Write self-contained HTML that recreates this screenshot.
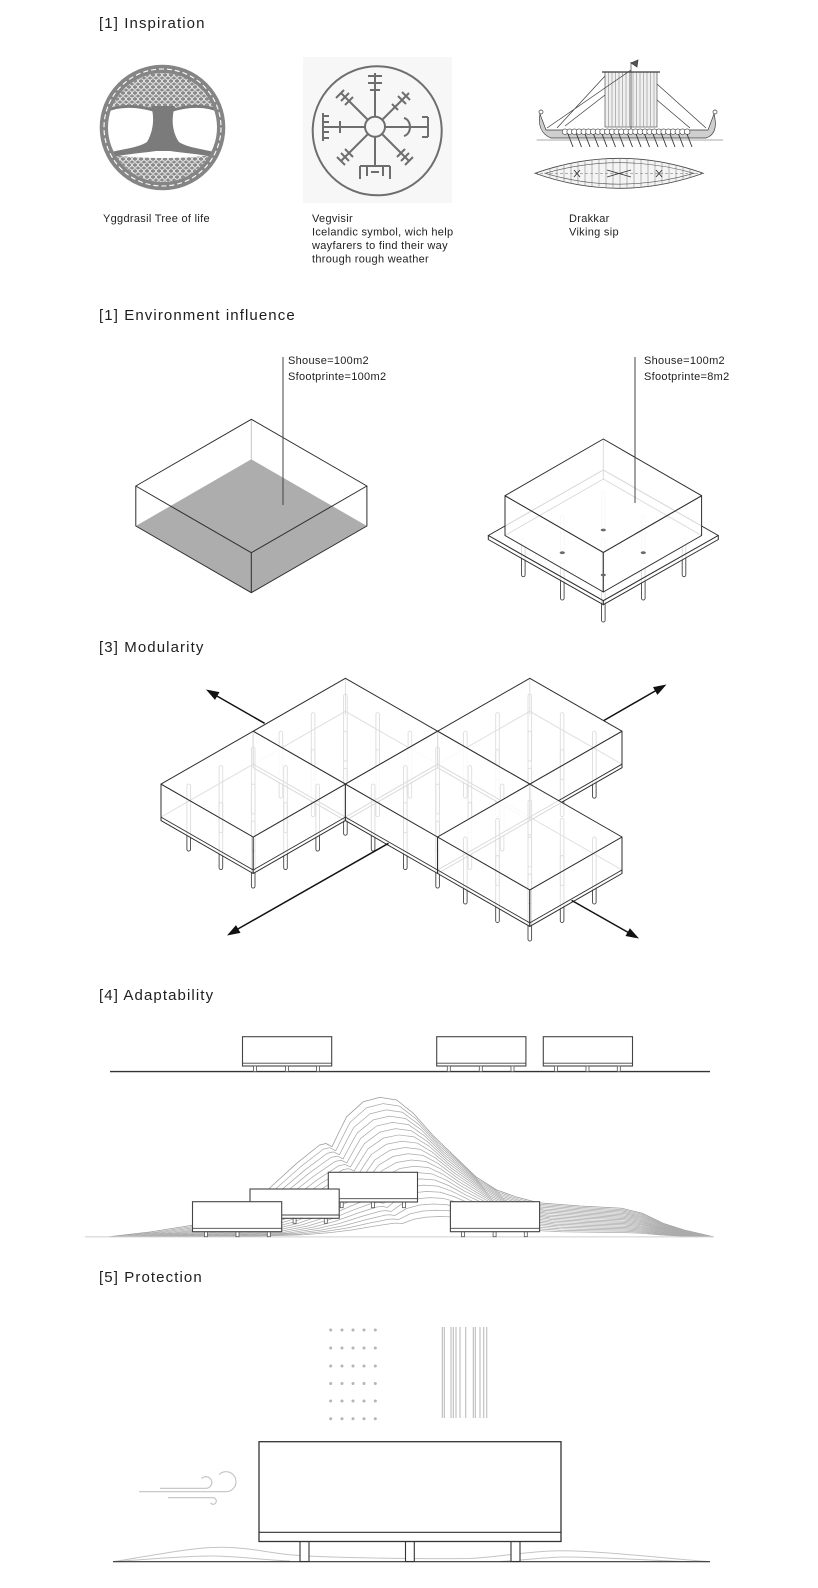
<!DOCTYPE html>
<html><head><meta charset="utf-8">
<style>
html,body{margin:0;padding:0;background:#fff}
svg{display:block}
text{font-family:"Liberation Sans",Arial,sans-serif;fill:#1e1e1e}
.t{font-size:15px;letter-spacing:1.1px}
.c{font-size:11px;letter-spacing:0.3px}
</style></head>
<body>
<svg width="818" height="1588" viewBox="0 0 818 1588" xmlns="http://www.w3.org/2000/svg">
<defs>
  <pattern id="kn" width="6" height="6" patternUnits="userSpaceOnUse">
    <rect width="6" height="6" fill="#8a8a8a"/>
    <path d="M0,3 C1.5,0 4.5,0 6,3 M0,3 C1.5,6 4.5,6 6,3" stroke="#fff" stroke-width="0.8" fill="none"/>
  </pattern>
  <clipPath id="tc"><circle cx="162.5" cy="127.5" r="54.5"/></clipPath>
  <clipPath id="lens"><path d="M535,173.3 Q619,143.3 703.3,173.3 Q619,203.3 535,173.3 Z"/></clipPath>
  <g id="mod">
    <g fill="none" stroke="#444" stroke-width="0.9">
      <rect x="-1.8" y="15.9" width="3.6" height="67" rx="1.8"/>
      <rect x="-34.1" y="34.4" width="3.6" height="67" rx="1.8"/>
      <rect x="-66.3" y="52.9" width="3.6" height="67" rx="1.8"/>
      <rect x="30.5" y="34.4" width="3.6" height="67" rx="1.8"/>
      <rect x="-1.8" y="52.9" width="3.6" height="67" rx="1.8"/>
      <rect x="-34.1" y="71.4" width="3.6" height="67" rx="1.8"/>
      <rect x="62.7" y="52.9" width="3.6" height="67" rx="1.8"/>
      <rect x="30.5" y="71.4" width="3.6" height="67" rx="1.8"/>
      <rect x="-1.8" y="89.9" width="3.6" height="67" rx="1.8"/>
      <path d="M0,0 V36.5 M0,33 L92.2,85.9 M0,33 L-92.2,85.9"/>
    </g>
    <g fill="rgba(255,255,255,0.82)" stroke="#2e2e2e" stroke-width="1" stroke-linejoin="round">
      <path d="M-92.2,52.9 L0,105.8 L0,142.3 L-92.2,89.4 Z"/>
      <path d="M0,105.8 L92.2,52.9 L92.2,89.4 L0,142.3 Z"/>
      <path d="M0,0 L92.2,52.9 L0,105.8 L-92.2,52.9 Z"/>
    </g>
    <path d="M-92.2,85.9 L0,138.8 L92.2,85.9" fill="none" stroke="#2e2e2e" stroke-width="0.9"/>
  </g>
</defs>

<!-- ============ SECTION 1 ============ -->
<text class="t" x="99" y="28">[1] Inspiration</text>

<!-- Tree -->
<g>
  <path d="M100,112 C115,104 135,102 152,110 L174,110 C190,102 210,104 226,112 L226,60 L100,60 Z" fill="url(#kn)" clip-path="url(#tc)"/>
  <path d="M100,152 C125,160 200,160 226,152 L226,195 L100,195 Z" fill="url(#kn)" clip-path="url(#tc)"/>
  <path d="M151,106 C155,118 153,132 147,142 C138,148 122,149 108,153 L112,157 C128,154 142,153 156,151 L170,151 C184,153 198,154 214,157 L218,153 C204,149 188,148 179,142 C172,132 171,118 175,106 Z" fill="#7b7b7b"/>
  <path d="M153,110 C140,106 120,104 106,111 M173,110 C186,106 205,104 219,111" stroke="#7b7b7b" stroke-width="3" fill="none"/>
  <circle cx="162.5" cy="127.5" r="58.5" fill="none" stroke="#858585" stroke-width="8"/>
  <circle cx="162.5" cy="127.5" r="58.5" fill="none" stroke="#fff" stroke-width="1.1" stroke-dasharray="5 3"/>
  <circle cx="162.5" cy="127.5" r="62.3" fill="none" stroke="#858585" stroke-width="1"/>
</g>

<!-- Vegvisir -->
<rect x="303" y="57" width="149" height="146" fill="#f7f7f7"/>
<g fill="none" stroke="#6e6e6e" stroke-width="2" stroke-linecap="butt">
  <circle cx="377.2" cy="130.8" r="64.5"/>
  <circle cx="375" cy="126.7" r="10"/>
  <path d="M375,117V73 M368,76H382 M368,83H382 M370,90H380"/>
  <path d="M375,137V166 M360,166H390 M360,166V179 M367,166V176 M383,166V176 M390,166V179 M371,172H379"/>
  <path d="M365,127H323 M323,113V141 M323,116H329 M323,122H329 M323,132H329 M323,138H329 M340,121V133"/>
  <path d="M385,127H428 M428,117V137 M428,117H422 M428,137H422 M416,127H424 M404,118 C412,120 412,134 404,136"/>
  <path d="M382,120 L409,93 M398,96 L406,104 M402,92 L410,100 M392,104 L398,110"/>
  <path d="M368,120 L341,93 M341,101 L349,93 M345,105 L353,97 M336,98 L344,90"/>
  <path d="M368,134 L341,161 M341,153 L349,161 M345,149 L353,157 M337,157 L345,165"/>
  <path d="M382,134 L409,161 M401,161 L409,153 M397,157 L405,149 M405,165 L413,157"/>
</g>

<!-- Ship -->
<g stroke="#3a3a3a" stroke-width="0.7" fill="none">
  <rect x="605" y="72" width="52" height="55" fill="#f0f0f0" stroke="#555"/>
  <path d="M608.5,72V127 M612,72V127 M615.5,72V127 M619,72V127 M622.5,72V127 M626,72V127 M629.5,72V127 M633,72V127 M636.5,72V127 M640,72V127 M643.5,72V127 M647,72V127 M650.5,72V127 M654,72V127" stroke="#9a9a9a"/>
  <path d="M602,72H660" stroke-width="1.2"/>
  <path d="M631,62V138"/>
  <path d="M631,63 L638,60 L637,67 Z" fill="#555"/>
  <path d="M631,70 L547,128 M605,76 L557,128 M605,95 L565,126 M657,84 L706,128 M657,100 L690,128"/>
  <path d="M540,114 C538,125 541,134 551,138 L706,138 C715,135 717,126 714,114 L708,130 L546,130 Z" fill="#cfcfcf"/>
  <circle cx="541" cy="112" r="2"/><circle cx="715" cy="112" r="2"/>
  <g fill="#fff" stroke="#333" stroke-width="0.6">
    <circle cx="565" cy="131.7" r="2.8"/><circle cx="569.7" cy="131.7" r="2.8"/><circle cx="574.4" cy="131.7" r="2.8"/><circle cx="579.1" cy="131.7" r="2.8"/><circle cx="583.8" cy="131.7" r="2.8"/><circle cx="588.5" cy="131.7" r="2.8"/><circle cx="593.2" cy="131.7" r="2.8"/><circle cx="597.9" cy="131.7" r="2.8"/><circle cx="602.6" cy="131.7" r="2.8"/><circle cx="607.3" cy="131.7" r="2.8"/><circle cx="612" cy="131.7" r="2.8"/><circle cx="616.7" cy="131.7" r="2.8"/><circle cx="621.4" cy="131.7" r="2.8"/><circle cx="626.1" cy="131.7" r="2.8"/><circle cx="630.8" cy="131.7" r="2.8"/><circle cx="635.5" cy="131.7" r="2.8"/><circle cx="640.2" cy="131.7" r="2.8"/><circle cx="644.9" cy="131.7" r="2.8"/><circle cx="649.6" cy="131.7" r="2.8"/><circle cx="654.3" cy="131.7" r="2.8"/><circle cx="659" cy="131.7" r="2.8"/><circle cx="663.7" cy="131.7" r="2.8"/><circle cx="668.4" cy="131.7" r="2.8"/><circle cx="673.1" cy="131.7" r="2.8"/><circle cx="677.8" cy="131.7" r="2.8"/><circle cx="682.5" cy="131.7" r="2.8"/><circle cx="687.2" cy="131.7" r="2.8"/>
  </g>
  <path d="M568,134 l5,13 M576.5,134 l5,13 M585,134 l5,13 M593.5,134 l5,13 M602,134 l5,13 M610.5,134 l5,13 M619,134 l5,13 M627.5,134 l5,13 M636,134 l5,13 M644.5,134 l5,13 M653,134 l5,13 M661.5,134 l5,13 M670,134 l5,13 M678.5,134 l5,13 M687,134 l5,13" stroke="#333" stroke-width="0.9"/>
  <path d="M536.7,140H723" stroke="#555" stroke-width="0.6"/>
  <path d="M535,173.3 Q619,143.3 703.3,173.3 Q619,203.3 535,173.3 Z" fill="#f4f4f4" stroke="#444" stroke-width="0.8"/>
  <g clip-path="url(#lens)" stroke="#888" stroke-width="0.6">
    <path d="M550,150V200 M557,150V200 M564,150V200 M571,150V200 M578,150V200 M585,150V200 M592,150V200 M599,150V200 M606,150V200 M613,150V200 M620,150V200 M627,150V200 M634,150V200 M641,150V200 M648,150V200 M655,150V200 M662,150V200 M669,150V200 M676,150V200 M683,150V200 M690,150V200"/>
    <path d="M545,173.3 Q619,152 694,173.3 Q619,195 545,173.3 Z" fill="none" stroke="#555"/>
    <path d="M535,173.3H703" stroke-dasharray="3 2"/>
  </g>
  <path d="M607,170 L631,177 M607,177 L631,170 M574,170 L580,177 M574,177 L580,170 M656,170 L662,177 M656,177 L662,170" stroke="#333" stroke-width="0.9"/>
</g>

<text class="c" x="103" y="222">Yggdrasil Tree of life</text>
<text class="c" x="312" y="222">Vegvisir</text>
<text class="c" x="312" y="235.5">Icelandic symbol, wich help</text>
<text class="c" x="312" y="249">wayfarers to find their way</text>
<text class="c" x="312" y="262.5">through rough weather</text>
<text class="c" x="569" y="222">Drakkar</text>
<text class="c" x="569" y="235.5">Viking sip</text>

<!-- ============ SECTION 2 ============ -->
<text class="t" x="99" y="320">[1] Environment influence</text>

<!-- left box -->
<path d="M251.3,459.3 L366.9,526 L251.3,592.7 L135.8,526 Z" fill="#adadad"/>
<path d="M251.3,419.3 V459.3" stroke="#c4c4c4" stroke-width="1" fill="none"/>
<g fill="none" stroke="#2e2e2e" stroke-width="1" stroke-linejoin="round">
  <path d="M251.3,419.3 L366.9,486 L251.3,552.7 L135.8,486 Z"/>
  <path d="M135.8,486 V526 L251.3,592.7 L366.9,526 V486 M251.3,552.7 V592.7"/>
</g>
<path d="M283,357 V505" stroke="#444" stroke-width="1"/>
<text class="c" x="288" y="364">Shouse=100m2</text>
<text class="c" x="288" y="380">Sfootprinte=100m2</text>

<!-- right building -->
<g fill="none" stroke="#444" stroke-width="0.9">
  <rect x="601.5" y="491.7" width="3.6" height="38.5" rx="1.8"/>
  <rect x="560.5" y="515" width="3.6" height="38" rx="1.8"/>
  <rect x="641.5" y="515" width="3.6" height="38" rx="1.8"/>
  <rect x="601.5" y="538" width="3.6" height="38" rx="1.8"/>
  <rect x="521.5" y="538.3" width="3.6" height="38.4" rx="1.8"/>
  <rect x="682.2" y="538.3" width="3.6" height="38.4" rx="1.8"/>
  <rect x="560.5" y="561.7" width="3.6" height="38.3" rx="1.8"/>
  <rect x="641.5" y="561.7" width="3.6" height="38.3" rx="1.8"/>
  <rect x="601.5" y="585" width="3.6" height="37" rx="1.8"/>
</g>
<g fill="rgba(255,255,255,0.8)" stroke="#2e2e2e" stroke-width="1" stroke-linejoin="round">
  <path d="M603.3,470 L718.3,535.5 L603.3,600.7 L488.3,535.5 Z"/>
  <path d="M488.3,535.5 L603.3,600.7 L603.3,604.7 L488.3,539.5 Z"/>
  <path d="M603.3,600.7 L718.3,535.5 L718.3,539.5 L603.3,604.7 Z"/>
</g>
<path d="M603.3,439 V479 L505,535.5 M603.3,479 L701.6,535.5" fill="none" stroke="#444" stroke-width="0.9"/>
<g fill="rgba(255,255,255,0.8)" stroke="#2e2e2e" stroke-width="1" stroke-linejoin="round">
  <path d="M505,495.7 L603.3,552.4 L603.3,592 L505,535.5 Z"/>
  <path d="M603.3,552.4 L701.6,495.7 L701.6,535.5 L603.3,592 Z"/>
  <path d="M603.3,439 L701.6,495.7 L603.3,552.4 L505,495.7 Z"/>
</g>
<g fill="#6a6a6a">
  <ellipse cx="603.3" cy="530" rx="2.6" ry="1.4"/>
  <ellipse cx="562.3" cy="552.7" rx="2.6" ry="1.4"/>
  <ellipse cx="643.3" cy="552.7" rx="2.6" ry="1.4"/>
  <ellipse cx="603.3" cy="575" rx="2.6" ry="1.4"/>
</g>
<path d="M635,357 V503" stroke="#444" stroke-width="1"/>
<text class="c" x="644" y="364">Shouse=100m2</text>
<text class="c" x="644" y="380">Sfootprinte=8m2</text>

<!-- ============ SECTION 3 ============ -->
<text class="t" x="99" y="652">[3] Modularity</text>
<use href="#mod" x="529.8" y="678.3"/>
<use href="#mod" x="345.4" y="678.3"/>
<use href="#mod" x="253.2" y="731.2"/>
<use href="#mod" x="437.6" y="731.2"/>
<use href="#mod" x="529.8" y="784.1"/>

<g stroke="#111" stroke-width="1.5" fill="none">
  <path d="M264.6,723.3 L216,695.5"/>
  <path d="M603.9,720.5 L656,690.5"/>
  <path d="M388.5,843.3 L237,929.5"/>
  <path d="M571.6,900.4 L628.5,932.6"/>
</g>
<g fill="#111">
  <path d="M206,689.5 L215,699.9 L219.5,692.1 Z"/>
  <path d="M666.5,684.5 L657.4,694.9 L653,687.1 Z"/>
  <path d="M227,935.5 L240.5,932.9 L236,925.1 Z"/>
  <path d="M639,938.5 L625.5,936 L629.9,928.2 Z"/>
</g>

<!-- ============ SECTION 4 ============ -->
<text class="t" x="99" y="1000">[4] Adaptability</text>

<path d="M110,1071.6 H710" stroke="#333" stroke-width="1.4"/>
<g fill="#fff" stroke="#444" stroke-width="1.1">
  <rect x="242.5" y="1036.7" width="89.2" height="29.3"/>
  <rect x="436.7" y="1036.7" width="89.2" height="29.3"/>
  <rect x="543.3" y="1036.7" width="89.2" height="29.3"/>
</g>
<path d="M242.5,1063.2 H331.7 M436.7,1063.2 H525.9 M543.3,1063.2 H632.5" stroke="#444" stroke-width="0.9"/>
<g fill="#fff" stroke="#555" stroke-width="0.8">
  <rect x="253.5" y="1066" width="3" height="5.5"/><rect x="285.5" y="1066" width="3" height="5.5"/><rect x="316.5" y="1066" width="3" height="5.5"/>
  <rect x="447.3" y="1066" width="3" height="5.5"/><rect x="479.3" y="1066" width="3" height="5.5"/><rect x="511" y="1066" width="3" height="5.5"/>
  <rect x="554.5" y="1066" width="3" height="5.5"/><rect x="586" y="1066" width="3" height="5.5"/><rect x="617.3" y="1066" width="3" height="5.5"/>
</g>

<g fill="none" stroke="#ababab" stroke-width="0.75" stroke-linejoin="round">
<path vector-effect="non-scaling-stroke" transform="translate(640 1236.7) scale(1 1) translate(-640 -1236.7)" d="M109.2,1236.7 L150,1232 L205,1223.3 L240,1208 L267.5,1190 L296.7,1163.3 L319.6,1145 L326,1143.5 L332,1146.7 L340,1130 L346.7,1116.7 L363.3,1101.7 L380,1097.3 L396.7,1100 L413.3,1113.3 L434.2,1136.7 L455,1156.7 L475.8,1176.7 L496.7,1190 L517.5,1197.3 L538.3,1202.7 L580,1206 L621.7,1208.3 L642.5,1213.3 L663.3,1223.3 L684.2,1230 L713.3,1236.7" stroke="#999"/>
<path vector-effect="non-scaling-stroke" transform="translate(640 1236.7) scale(0.988 0.955) translate(-640 -1236.7)" d="M109.2,1236.7 L150,1232 L205,1223.3 L240,1208 L267.5,1190 L296.7,1163.3 L319.6,1145 L326,1143.5 L332,1146.7 L340,1130 L346.7,1116.7 L363.3,1101.7 L380,1097.3 L396.7,1100 L413.3,1113.3 L434.2,1136.7 L455,1156.7 L475.8,1176.7 L496.7,1190 L517.5,1197.3 L538.3,1202.7 L580,1206 L621.7,1208.3 L642.5,1213.3 L663.3,1223.3 L684.2,1230 L713.3,1236.7"/>
<path vector-effect="non-scaling-stroke" transform="translate(640 1236.7) scale(0.976 0.91) translate(-640 -1236.7)" d="M109.2,1236.7 L150,1232 L205,1223.3 L240,1208 L267.5,1190 L296.7,1163.3 L319.6,1145 L326,1143.5 L332,1146.7 L340,1130 L346.7,1116.7 L363.3,1101.7 L380,1097.3 L396.7,1100 L413.3,1113.3 L434.2,1136.7 L455,1156.7 L475.8,1176.7 L496.7,1190 L517.5,1197.3 L538.3,1202.7 L580,1206 L621.7,1208.3 L642.5,1213.3 L663.3,1223.3 L684.2,1230 L713.3,1236.7"/>
<path vector-effect="non-scaling-stroke" transform="translate(640 1236.7) scale(0.964 0.865) translate(-640 -1236.7)" d="M109.2,1236.7 L150,1232 L205,1223.3 L240,1208 L267.5,1190 L296.7,1163.3 L319.6,1145 L326,1143.5 L332,1146.7 L340,1130 L346.7,1116.7 L363.3,1101.7 L380,1097.3 L396.7,1100 L413.3,1113.3 L434.2,1136.7 L455,1156.7 L475.8,1176.7 L496.7,1190 L517.5,1197.3 L538.3,1202.7 L580,1206 L621.7,1208.3 L642.5,1213.3 L663.3,1223.3 L684.2,1230 L713.3,1236.7"/>
<path vector-effect="non-scaling-stroke" transform="translate(640 1236.7) scale(0.952 0.82) translate(-640 -1236.7)" d="M109.2,1236.7 L150,1232 L205,1223.3 L240,1208 L267.5,1190 L296.7,1163.3 L319.6,1145 L326,1143.5 L332,1146.7 L340,1130 L346.7,1116.7 L363.3,1101.7 L380,1097.3 L396.7,1100 L413.3,1113.3 L434.2,1136.7 L455,1156.7 L475.8,1176.7 L496.7,1190 L517.5,1197.3 L538.3,1202.7 L580,1206 L621.7,1208.3 L642.5,1213.3 L663.3,1223.3 L684.2,1230 L713.3,1236.7"/>
<path vector-effect="non-scaling-stroke" transform="translate(640 1236.7) scale(0.94 0.775) translate(-640 -1236.7)" d="M109.2,1236.7 L150,1232 L205,1223.3 L240,1208 L267.5,1190 L296.7,1163.3 L319.6,1145 L326,1143.5 L332,1146.7 L340,1130 L346.7,1116.7 L363.3,1101.7 L380,1097.3 L396.7,1100 L413.3,1113.3 L434.2,1136.7 L455,1156.7 L475.8,1176.7 L496.7,1190 L517.5,1197.3 L538.3,1202.7 L580,1206 L621.7,1208.3 L642.5,1213.3 L663.3,1223.3 L684.2,1230 L713.3,1236.7"/>
<path vector-effect="non-scaling-stroke" transform="translate(640 1236.7) scale(0.928 0.73) translate(-640 -1236.7)" d="M109.2,1236.7 L150,1232 L205,1223.3 L240,1208 L267.5,1190 L296.7,1163.3 L319.6,1145 L326,1143.5 L332,1146.7 L340,1130 L346.7,1116.7 L363.3,1101.7 L380,1097.3 L396.7,1100 L413.3,1113.3 L434.2,1136.7 L455,1156.7 L475.8,1176.7 L496.7,1190 L517.5,1197.3 L538.3,1202.7 L580,1206 L621.7,1208.3 L642.5,1213.3 L663.3,1223.3 L684.2,1230 L713.3,1236.7"/>
<path vector-effect="non-scaling-stroke" transform="translate(640 1236.7) scale(0.916 0.685) translate(-640 -1236.7)" d="M109.2,1236.7 L150,1232 L205,1223.3 L240,1208 L267.5,1190 L296.7,1163.3 L319.6,1145 L326,1143.5 L332,1146.7 L340,1130 L346.7,1116.7 L363.3,1101.7 L380,1097.3 L396.7,1100 L413.3,1113.3 L434.2,1136.7 L455,1156.7 L475.8,1176.7 L496.7,1190 L517.5,1197.3 L538.3,1202.7 L580,1206 L621.7,1208.3 L642.5,1213.3 L663.3,1223.3 L684.2,1230 L713.3,1236.7"/>
<path vector-effect="non-scaling-stroke" transform="translate(640 1236.7) scale(0.904 0.64) translate(-640 -1236.7)" d="M109.2,1236.7 L150,1232 L205,1223.3 L240,1208 L267.5,1190 L296.7,1163.3 L319.6,1145 L326,1143.5 L332,1146.7 L340,1130 L346.7,1116.7 L363.3,1101.7 L380,1097.3 L396.7,1100 L413.3,1113.3 L434.2,1136.7 L455,1156.7 L475.8,1176.7 L496.7,1190 L517.5,1197.3 L538.3,1202.7 L580,1206 L621.7,1208.3 L642.5,1213.3 L663.3,1223.3 L684.2,1230 L713.3,1236.7"/>
<path vector-effect="non-scaling-stroke" transform="translate(640 1236.7) scale(0.892 0.595) translate(-640 -1236.7)" d="M109.2,1236.7 L150,1232 L205,1223.3 L240,1208 L267.5,1190 L296.7,1163.3 L319.6,1145 L326,1143.5 L332,1146.7 L340,1130 L346.7,1116.7 L363.3,1101.7 L380,1097.3 L396.7,1100 L413.3,1113.3 L434.2,1136.7 L455,1156.7 L475.8,1176.7 L496.7,1190 L517.5,1197.3 L538.3,1202.7 L580,1206 L621.7,1208.3 L642.5,1213.3 L663.3,1223.3 L684.2,1230 L713.3,1236.7"/>
<path vector-effect="non-scaling-stroke" transform="translate(640 1236.7) scale(0.88 0.55) translate(-640 -1236.7)" d="M109.2,1236.7 L150,1232 L205,1223.3 L240,1208 L267.5,1190 L296.7,1163.3 L319.6,1145 L326,1143.5 L332,1146.7 L340,1130 L346.7,1116.7 L363.3,1101.7 L380,1097.3 L396.7,1100 L413.3,1113.3 L434.2,1136.7 L455,1156.7 L475.8,1176.7 L496.7,1190 L517.5,1197.3 L538.3,1202.7 L580,1206 L621.7,1208.3 L642.5,1213.3 L663.3,1223.3 L684.2,1230 L713.3,1236.7"/>
<path vector-effect="non-scaling-stroke" transform="translate(640 1236.7) scale(0.868 0.505) translate(-640 -1236.7)" d="M109.2,1236.7 L150,1232 L205,1223.3 L240,1208 L267.5,1190 L296.7,1163.3 L319.6,1145 L326,1143.5 L332,1146.7 L340,1130 L346.7,1116.7 L363.3,1101.7 L380,1097.3 L396.7,1100 L413.3,1113.3 L434.2,1136.7 L455,1156.7 L475.8,1176.7 L496.7,1190 L517.5,1197.3 L538.3,1202.7 L580,1206 L621.7,1208.3 L642.5,1213.3 L663.3,1223.3 L684.2,1230 L713.3,1236.7"/>
<path vector-effect="non-scaling-stroke" transform="translate(640 1236.7) scale(0.856 0.46) translate(-640 -1236.7)" d="M109.2,1236.7 L150,1232 L205,1223.3 L240,1208 L267.5,1190 L296.7,1163.3 L319.6,1145 L326,1143.5 L332,1146.7 L340,1130 L346.7,1116.7 L363.3,1101.7 L380,1097.3 L396.7,1100 L413.3,1113.3 L434.2,1136.7 L455,1156.7 L475.8,1176.7 L496.7,1190 L517.5,1197.3 L538.3,1202.7 L580,1206 L621.7,1208.3 L642.5,1213.3 L663.3,1223.3 L684.2,1230 L713.3,1236.7"/>
<path vector-effect="non-scaling-stroke" transform="translate(640 1236.7) scale(0.844 0.415) translate(-640 -1236.7)" d="M109.2,1236.7 L150,1232 L205,1223.3 L240,1208 L267.5,1190 L296.7,1163.3 L319.6,1145 L326,1143.5 L332,1146.7 L340,1130 L346.7,1116.7 L363.3,1101.7 L380,1097.3 L396.7,1100 L413.3,1113.3 L434.2,1136.7 L455,1156.7 L475.8,1176.7 L496.7,1190 L517.5,1197.3 L538.3,1202.7 L580,1206 L621.7,1208.3 L642.5,1213.3 L663.3,1223.3 L684.2,1230 L713.3,1236.7"/>
<path vector-effect="non-scaling-stroke" transform="translate(640 1236.7) scale(0.832 0.37) translate(-640 -1236.7)" d="M109.2,1236.7 L150,1232 L205,1223.3 L240,1208 L267.5,1190 L296.7,1163.3 L319.6,1145 L326,1143.5 L332,1146.7 L340,1130 L346.7,1116.7 L363.3,1101.7 L380,1097.3 L396.7,1100 L413.3,1113.3 L434.2,1136.7 L455,1156.7 L475.8,1176.7 L496.7,1190 L517.5,1197.3 L538.3,1202.7 L580,1206 L621.7,1208.3 L642.5,1213.3 L663.3,1223.3 L684.2,1230 L713.3,1236.7"/>
<path vector-effect="non-scaling-stroke" transform="translate(640 1236.7) scale(0.82 0.325) translate(-640 -1236.7)" d="M109.2,1236.7 L150,1232 L205,1223.3 L240,1208 L267.5,1190 L296.7,1163.3 L319.6,1145 L326,1143.5 L332,1146.7 L340,1130 L346.7,1116.7 L363.3,1101.7 L380,1097.3 L396.7,1100 L413.3,1113.3 L434.2,1136.7 L455,1156.7 L475.8,1176.7 L496.7,1190 L517.5,1197.3 L538.3,1202.7 L580,1206 L621.7,1208.3 L642.5,1213.3 L663.3,1223.3 L684.2,1230 L713.3,1236.7"/>
<path vector-effect="non-scaling-stroke" transform="translate(640 1236.7) scale(0.808 0.28) translate(-640 -1236.7)" d="M109.2,1236.7 L150,1232 L205,1223.3 L240,1208 L267.5,1190 L296.7,1163.3 L319.6,1145 L326,1143.5 L332,1146.7 L340,1130 L346.7,1116.7 L363.3,1101.7 L380,1097.3 L396.7,1100 L413.3,1113.3 L434.2,1136.7 L455,1156.7 L475.8,1176.7 L496.7,1190 L517.5,1197.3 L538.3,1202.7 L580,1206 L621.7,1208.3 L642.5,1213.3 L663.3,1223.3 L684.2,1230 L713.3,1236.7"/>
<path vector-effect="non-scaling-stroke" transform="translate(640 1236.7) scale(0.796 0.235) translate(-640 -1236.7)" d="M109.2,1236.7 L150,1232 L205,1223.3 L240,1208 L267.5,1190 L296.7,1163.3 L319.6,1145 L326,1143.5 L332,1146.7 L340,1130 L346.7,1116.7 L363.3,1101.7 L380,1097.3 L396.7,1100 L413.3,1113.3 L434.2,1136.7 L455,1156.7 L475.8,1176.7 L496.7,1190 L517.5,1197.3 L538.3,1202.7 L580,1206 L621.7,1208.3 L642.5,1213.3 L663.3,1223.3 L684.2,1230 L713.3,1236.7"/>
<path vector-effect="non-scaling-stroke" transform="translate(640 1236.7) scale(0.784 0.19) translate(-640 -1236.7)" d="M109.2,1236.7 L150,1232 L205,1223.3 L240,1208 L267.5,1190 L296.7,1163.3 L319.6,1145 L326,1143.5 L332,1146.7 L340,1130 L346.7,1116.7 L363.3,1101.7 L380,1097.3 L396.7,1100 L413.3,1113.3 L434.2,1136.7 L455,1156.7 L475.8,1176.7 L496.7,1190 L517.5,1197.3 L538.3,1202.7 L580,1206 L621.7,1208.3 L642.5,1213.3 L663.3,1223.3 L684.2,1230 L713.3,1236.7"/>
<path vector-effect="non-scaling-stroke" transform="translate(640 1236.7) scale(0.772 0.145) translate(-640 -1236.7)" d="M109.2,1236.7 L150,1232 L205,1223.3 L240,1208 L267.5,1190 L296.7,1163.3 L319.6,1145 L326,1143.5 L332,1146.7 L340,1130 L346.7,1116.7 L363.3,1101.7 L380,1097.3 L396.7,1100 L413.3,1113.3 L434.2,1136.7 L455,1156.7 L475.8,1176.7 L496.7,1190 L517.5,1197.3 L538.3,1202.7 L580,1206 L621.7,1208.3 L642.5,1213.3 L663.3,1223.3 L684.2,1230 L713.3,1236.7"/>
</g>
<path d="M85,1236.9 H714" stroke="#cfcfcf" stroke-width="1"/>

<!-- boxes on mountain: back to front -->
<g stroke="#444" stroke-width="1.1">
  <g fill="#fff" stroke="#555" stroke-width="0.8">
    <rect x="340.2" y="1202" width="3" height="5.7"/><rect x="371.5" y="1202" width="3" height="5.7"/><rect x="402.5" y="1202" width="3" height="5.7"/>
  </g>
  <rect x="328.3" y="1172.3" width="89.2" height="29.7" fill="#fff"/>
  <path d="M328.3,1198.7 H417.5" stroke-width="0.9"/>
  <g fill="#fff" stroke="#555" stroke-width="0.8">
    <rect x="261.5" y="1218.3" width="3" height="5"/><rect x="293.1" y="1218.3" width="3" height="5"/><rect x="324.3" y="1218.3" width="3" height="5"/>
  </g>
  <rect x="250" y="1189" width="89.2" height="29.3" fill="#fff"/>
  <path d="M250,1215 H339.2" stroke-width="0.9"/>
  <g fill="#fff" stroke="#555" stroke-width="0.8">
    <rect x="204.5" y="1231.7" width="3" height="5"/><rect x="236" y="1231.7" width="3" height="5"/><rect x="267.3" y="1231.7" width="3" height="5"/>
  </g>
  <rect x="192.5" y="1201.7" width="89.2" height="30" fill="#fff"/>
  <path d="M192.5,1228.3 H281.7" stroke-width="0.9"/>
  <g fill="#fff" stroke="#555" stroke-width="0.8">
    <rect x="461.5" y="1231.7" width="3" height="5"/><rect x="493.1" y="1231.7" width="3" height="5"/><rect x="524.3" y="1231.7" width="3" height="5"/>
  </g>
  <rect x="450.4" y="1201.7" width="89.2" height="30" fill="#fff"/>
  <path d="M450.4,1228.3 H539.6" stroke-width="0.9"/>
</g>

<!-- ============ SECTION 5 ============ -->
<text class="t" x="99" y="1282">[5] Protection</text>

<g fill="#b5b5b5">
  <circle cx="330.7" cy="1330" r="1.5"/><circle cx="342" cy="1330" r="1.5"/><circle cx="353" cy="1330" r="1.5"/><circle cx="364" cy="1330" r="1.5"/><circle cx="375.3" cy="1330" r="1.5"/>
  <circle cx="330.7" cy="1348" r="1.5"/><circle cx="342" cy="1348" r="1.5"/><circle cx="353" cy="1348" r="1.5"/><circle cx="364" cy="1348" r="1.5"/><circle cx="375.3" cy="1348" r="1.5"/>
  <circle cx="330.7" cy="1366" r="1.5"/><circle cx="342" cy="1366" r="1.5"/><circle cx="353" cy="1366" r="1.5"/><circle cx="364" cy="1366" r="1.5"/><circle cx="375.3" cy="1366" r="1.5"/>
  <circle cx="330.7" cy="1383.5" r="1.5"/><circle cx="342" cy="1383.5" r="1.5"/><circle cx="353" cy="1383.5" r="1.5"/><circle cx="364" cy="1383.5" r="1.5"/><circle cx="375.3" cy="1383.5" r="1.5"/>
  <circle cx="330.7" cy="1401" r="1.5"/><circle cx="342" cy="1401" r="1.5"/><circle cx="353" cy="1401" r="1.5"/><circle cx="364" cy="1401" r="1.5"/><circle cx="375.3" cy="1401" r="1.5"/>
  <circle cx="330.7" cy="1418.7" r="1.5"/><circle cx="342" cy="1418.7" r="1.5"/><circle cx="353" cy="1418.7" r="1.5"/><circle cx="364" cy="1418.7" r="1.5"/><circle cx="375.3" cy="1418.7" r="1.5"/>
</g>
<path d="M442.3,1327V1418 M444.3,1327V1418 M451,1327V1418 M453.3,1327V1418 M456,1327V1418 M460,1327V1418 M465.7,1327V1418 M473.3,1327V1418 M475.3,1327V1418 M480,1327V1418 M483.7,1327V1418 M486.7,1327V1418" stroke="#bcbcbc" stroke-width="1.1"/>

<g fill="none" stroke="#c2c2c2" stroke-width="1.1">
  <path d="M139,1491.7 L226,1491.7 A10,10 0 0 0 236,1481.7 A10,10 0 0 0 226,1471.7 A10,10 0 0 0 219,1474.6"/>
  <path d="M160,1488.3 L206,1488.3 A5.8,5.8 0 0 0 211.8,1482.5 A5.8,5.8 0 0 0 206,1476.7 A5.8,5.8 0 0 0 201.5,1478.7"/>
  <path d="M168,1497.7 L213,1497.7 A3.3,3.3 0 0 1 216.3,1501 A3.3,3.3 0 0 1 213,1504.3 A3.3,3.3 0 0 1 210.5,1503"/>
</g>

<g fill="none" stroke="#c4c4c4" stroke-width="1">
  <path d="M113,1561.7 C150,1556 190,1547.3 222,1547.3 C250,1547.3 268,1553 293,1555 C330,1558 420,1559 470,1558.5 C500,1557 530,1550.7 560,1550.7 C600,1550.7 660,1558 710,1561.7"/>
  <path d="M113,1561.7 C150,1559 185,1556 210,1556 C240,1556 260,1560 290,1561"/>
  <path d="M500,1561.5 C530,1559.5 550,1557 565,1557 C600,1557 640,1560 690,1561.7"/>
</g>

<g fill="#fff" stroke="#333" stroke-width="1.1">
  <rect x="300" y="1541.5" width="9" height="20"/>
  <rect x="405.5" y="1541.5" width="8.8" height="20"/>
  <rect x="511" y="1541.5" width="9" height="20"/>
</g>
<rect x="259" y="1441.7" width="302" height="99.8" fill="#fff" stroke="#333" stroke-width="1.3"/>
<path d="M259,1532.3 H561" stroke="#333" stroke-width="1.2"/>
<path d="M113,1561.7 H710" stroke="#333" stroke-width="1.2"/>

</svg>
</body></html>
